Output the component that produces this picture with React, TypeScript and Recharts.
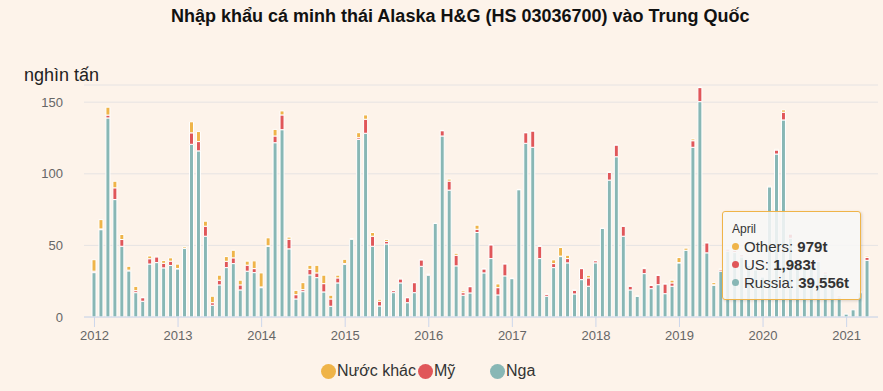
import React from "react"
import { BarChart, Bar, XAxis, YAxis, CartesianGrid, Tooltip } from "recharts"

// monthly imports, thousand tonnes, Jan 2012 .. Apr 2021
const years = [2012, 2013, 2014, 2015, 2016, 2017, 2018, 2019, 2020, 2021]
const lastMonthOf2021 = 4
const monthNames = [
  "January", "February", "March", "April", "May", "June",
  "July", "August", "September", "October", "November", "December",
]

const russia = [
  31, 61, 139, 82, 49.4, 32.2, 17, 11, 37, 38, 34.3, 36,
  33.6, 47.8, 120.6, 116, 56.4, 8.2, 22.4, 34.5, 37.3, 18.9, 32, 31,
  20.5, 49.4, 121.7, 130.8, 47.6, 12.6, 17.7, 29.4, 27.5, 17.5, 7.5, 23.8,
  36.8, 54.3, 124, 128.3, 49.4, 7.7, 51, 17, 23.8, 10, 17, 35.4,
  29.2, 65.3, 126.4, 88.6, 35.7, 15.2, 16.8, 59, 30.8, 40.8, 15.4, 28.7,
  26.8, 88.9, 121.3, 118.5, 40.8, 14.5, 34.5, 42.2, 37.8, 16.1, 26.1, 21.5,
  37.8, 61.8, 95.6, 111.9, 56.4, 18.9, 14.5, 30.3, 19.8, 22.6, 16.3, 21.5,
  37.8, 46.6, 118.5, 150.4, 44.8, 22.2, 32, 46, 45, 42, 36, 33,
  28, 90.9, 113.8, 137.6, 55, 38, 34, 37, 39, 30, 24, 14,
  2, 5, 17, 39.556,
]

const us = [
  1, 0.5, 2, 8.2, 4.7, 0.5, 1.4, 2.5, 3.7, 4, 3.2, 3,
  0.3, 0.3, 8, 6.5, 7, 1.8, 3.3, 4.4, 4, 3.5, 4.2, 2.8,
  0.5, 0.3, 4.7, 10.3, 6.7, 3, 1.4, 3.9, 3.3, 5.8, 5.1, 3.5,
  0.5, 0, 1.2, 9.8, 7, 3.3, 1.8, 1.4, 2.8, 3.5, 7, 4.5,
  0.5, 0, 3.7, 6.3, 7.4, 1.8, 4.4, 2.3, 2.8, 9.6, 5.1, 8.4,
  0, 0, 7.4, 11.4, 8.6, 1.4, 2.8, 0.3, 3, 2.6, 7.7, 5.8,
  1.5, 0, 5.4, 8.2, 7, 2.6, 0, 3.5, 2.3, 6.5, 6.8, 2.3,
  0.2, 0, 4.6, 9.8, 7, 0.3, 1, 1.5, 1.5, 1.5, 1, 1,
  0.5, 0, 2.8, 5.4, 3, 1, 1, 1, 1, 1.5, 1.5, 1,
  0, 0, 0.5, 1.983,
]

const others = [
  8, 6.5, 5.5, 4.6, 3.5, 2.7, 3, 0.3, 1.9, 0.5, 1.9, 2.3,
  3, 1, 7.7, 7, 3.5, 4.5, 3.5, 3.3, 5.3, 3.3, 2.8, 5.4,
  9.8, 5.6, 4.6, 2.8, 1.5, 3, 4.9, 2.8, 5.3, 5.9, 2.6, 1.9,
  3, 0.5, 3.5, 3, 2.6, 1.4, 1.4, 0.3, 0.5, 0.2, 0.2, 0.2,
  0.5, 0.2, 0.2, 1.4, 1.4, 1.2, 0.2, 2.8, 0.2, 0.2, 2.6, 0.2,
  0.3, 0.2, 0.2, 0.2, 0.2, 0.2, 2.6, 6, 2.3, 0.2, 0.2, 1.8,
  0.3, 0.2, 0.2, 0.2, 0.2, 0.2, 0.2, 0.7, 0.2, 0.2, 0.2, 1.9,
  3.5, 1.5, 1.2, 0.3, 0.3, 1.5, 0.5, 0.3, 0.3, 0.3, 0.3, 0.3,
  0.3, 0.5, 0.5, 1.6, 0.3, 0.3, 0.3, 0.3, 0.3, 0.3, 0.3, 0.3,
  0, 0, 0.3, 0.979,
]

const yTicks = [0, 50, 100, 150]

const ORANGE = "#efb449"
const RED = "#e05659"
const TEAL = "#88b7b5"

const data = years.flatMap((y) =>
  monthNames
    .slice(0, y === 2021 ? lastMonthOf2021 : 12)
    .map((m, mi) => ({ key: `${y}-${mi + 1}`, year: y, month: m }))
).map((d, i) => ({ ...d, russia: russia[i], us: us[i], others: others[i] }))

const yearTicks = years.map((y) => `${y}-1`)

const fmt = (v: number) => `${Math.round(v * 1000).toLocaleString("en-US")}t`

function Dot({ color }: { color: string }) {
  return (
    <span
      style={{
        display: "inline-block",
        width: 7,
        height: 7,
        borderRadius: "50%",
        background: color,
        marginRight: 5,
        verticalAlign: "middle",
        position: "relative",
        top: -2,
      }}
    />
  )
}

function TipBox({ active, payload }: any) {
  if (!active || !payload || !payload.length) return null
  const p = payload[0].payload
  const rows = [
    { name: "Others", color: ORANGE, v: p.others },
    { name: "US", color: RED, v: p.us },
    { name: "Russia", color: TEAL, v: p.russia },
  ]
  return (
    <div
      style={{
        width: 139,
        height: 89,
        boxSizing: "border-box",
        background: "rgba(247,247,247,0.86)",
        border: `1px solid ${ORANGE}`,
        borderRadius: 3,
        boxShadow: "1px 1px 3px rgba(0,0,0,0.15)",
        padding: "8px 9px",
        fontFamily: "'Liberation Sans', Arial, sans-serif",
        color: "#333",
      }}
    >
      <div style={{ fontSize: 12, lineHeight: "18px" }}>{p.month}</div>
      {rows.map((r) => (
        <div key={r.name} style={{ fontSize: 15, lineHeight: "18px", whiteSpace: "nowrap" }}>
          <Dot color={r.color} />
          {r.name}: <b>{fmt(r.v)}</b>
        </div>
      ))}
    </div>
  )
}

function LegendItem({ color, label, left }: { color: string; label: string; left: number }) {
  return (
    <div
      style={{
        position: "absolute",
        left,
        top: 362,
        display: "flex",
        alignItems: "center",
        fontSize: 16,
        color: "#333",
      }}
    >
      <span
        style={{
          width: 15,
          height: 15,
          borderRadius: "50%",
          background: color,
          marginRight: 1,
        }}
      />
      {label}
    </div>
  )
}

export default function App() {
  return (
    <div
      style={{
        position: "fixed",
        left: 0,
        top: 0,
        width: 883,
        height: 391,
        background: "#fdf3ea",
        fontFamily: "'Liberation Sans', Arial, sans-serif",
        overflow: "hidden",
      }}
    >
      <div
        style={{
          position: "absolute",
          left: 171,
          top: 6,
          fontSize: 18,
          fontWeight: "bold",
          color: "#111",
          whiteSpace: "nowrap",
        }}
      >
        Nhập khẩu cá minh thái Alaska H&amp;G (HS 03036700) vào Trung Quốc
      </div>
      <div style={{ position: "absolute", left: 24, top: 65, fontSize: 18, color: "#222" }}>
        nghìn tấn
      </div>

      <BarChart
        width={883}
        height={391}
        data={data}
        margin={{ top: 85, right: 5, bottom: 0, left: 0 }}
        barSize={4}
      >
        <CartesianGrid vertical={false} stroke="#e6e3e3" />
        <XAxis
          dataKey="key"
          ticks={yearTicks}
          interval={0}
          tickFormatter={(k: string) => k.split("-")[0]}
          height={74}
          padding={{ left: 7, right: 7 }}
          tickSize={10}
          tickMargin={4}
          axisLine={{ stroke: "#ccd6eb" }}
          tickLine={{ stroke: "#ccd6eb" }}
          tick={{ fill: "#666", fontSize: 13 }}
        />
        <YAxis
          width={84}
          domain={[0, 162]}
          ticks={yTicks}
          allowDataOverflow
          axisLine={false}
          tickLine={false}
          tickSize={0}
          tickMargin={21}
          tick={{ fill: "#666", fontSize: 13 }}
        />
        <Tooltip
          active
          defaultIndex={111}
          position={{ x: 722, y: 211 }}
          cursor={false}
          isAnimationActive={false}
          content={<TipBox />}
          wrapperStyle={{ outline: "none" }}
        />
        <Bar dataKey="russia" stackId="a" fill={TEAL} stroke="#fff" strokeWidth={1} isAnimationActive={false} />
        <Bar dataKey="us" stackId="a" fill={RED} stroke="#fff" strokeWidth={1} isAnimationActive={false} />
        <Bar dataKey="others" stackId="a" fill={ORANGE} stroke="#fff" strokeWidth={1} isAnimationActive={false} />
      </BarChart>

      <LegendItem color={ORANGE} label="Nước khác" left={321} />
      <LegendItem color={RED} label="Mỹ" left={418} />
      <LegendItem color={TEAL} label="Nga" left={490} />
    </div>
  )
}
